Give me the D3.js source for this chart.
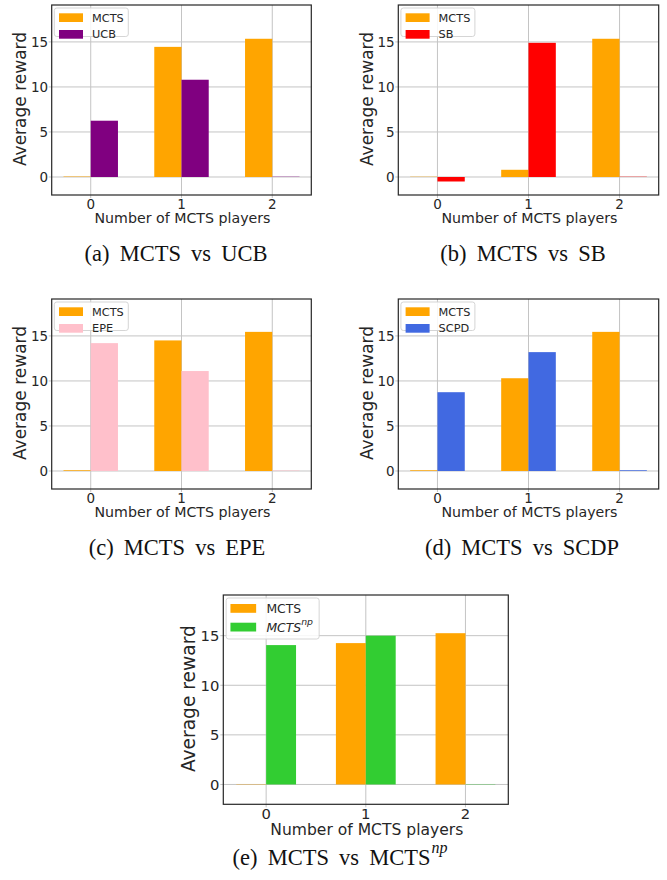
<!DOCTYPE html>
<html>
<head>
<meta charset="utf-8">
<script src="https://cdn.jsdelivr.net/npm/d3@7"></script>
<style>
  html, body { margin: 0; padding: 0; background: #fff; }
  svg { display: block; }
</style>
</head>
<body>
<svg id="fig" width="667" height="880"></svg>
<script>
// ---- data ----
const categories = [0, 1, 2];
const yTicks = [0, 5, 10, 15];
const yLabel = "Average reward";
const xLabel = "Number of MCTS players";

const mctsVsUCB = [0.05, 14.45, 15.35];
const ucbVals = [6.25, 10.8, 0.03];

const mctsVsSB = [0.03, 0.8, 15.35];
const sbVals = [-0.5, 14.9, 0.03];

const mctsVsEPE = [0.08, 14.5, 15.45];
const epeVals = [14.2, 11.1, 0.05];

const mctsVsSCPD = [0.08, 10.3, 15.45];
const scpdVals = [8.75, 13.2, 0.08];

const mctsVsNP = [0.03, 14.25, 15.25];
const npVals = [14.05, 15.0, 0.03];

const panels = [
  { key: "a", caption: "(a) MCTS vs UCB", other: "UCB", mcts: mctsVsUCB, vals: ucbVals, color: "#800080",
    frame: { l: 51.7, r: 311.3, t: 5, b: 195 }, k: 1, capX: 176, capY: 261 },
  { key: "b", caption: "(b) MCTS vs SB", other: "SB", mcts: mctsVsSB, vals: sbVals, color: "#ff0000",
    frame: { l: 398.3, r: 658.7, t: 5, b: 195 }, k: 1, capX: 523, capY: 261 },
  { key: "c", caption: "(c) MCTS vs EPE", other: "EPE", mcts: mctsVsEPE, vals: epeVals, color: "#ffc0cb",
    frame: { l: 51.7, r: 311.3, t: 299, b: 489 }, k: 1, capX: 177, capY: 555 },
  { key: "d", caption: "(d) MCTS vs SCDP", other: "SCPD", mcts: mctsVsSCPD, vals: scpdVals, color: "#4169e1",
    frame: { l: 398.3, r: 658.7, t: 299, b: 489 }, k: 1, capX: 522, capY: 555 },
  { key: "e", caption: "(e) MCTS vs MCTS", capSup: "np", other: "MCTS", otherSup: "np", mcts: mctsVsNP, vals: npVals, color: "#32cd32",
    frame: { l: 223.3, r: 508.3, t: 595, b: 804.3 }, k: 1.096, capX: 340, capY: 865 }
];

const MCTS_COLOR = "#ffa500";
const barW = 0.3;
const svg = d3.select("#fig");
const sans = "'DejaVu Sans', sans-serif";
const serif = "'Liberation Serif', 'Times New Roman', serif";

panels.forEach(p => {
  const f = p.frame, k = p.k;
  const x = d3.scaleLinear().domain([-0.43, 2.43]).range([f.l, f.r]);
  const y = d3.scaleLinear().domain([-2, 19.1]).range([f.b, f.t]);
  const g = svg.append("g");

  // grid
  g.selectAll(".gy").data(yTicks).join("line")
    .attr("x1", f.l - 3).attr("x2", f.r)
    .attr("y1", d => y(d)).attr("y2", d => y(d))
    .attr("stroke", "#c4c4c4").attr("stroke-width", 1);
  g.selectAll(".gx").data(categories).join("line")
    .attr("x1", d => x(d)).attr("x2", d => x(d))
    .attr("y1", f.t).attr("y2", f.b + 3)
    .attr("stroke", "#c4c4c4").attr("stroke-width", 1);

  // bars
  const drawBars = (vals, offset, color) => {
    g.selectAll(null).data(categories).join("rect")
      .attr("x", d => x(d + offset))
      .attr("width", d => x(d + offset + barW) - x(d + offset))
      .attr("y", (d, i) => y(Math.max(0, vals[i])))
      .attr("height", (d, i) => Math.abs(y(vals[i]) - y(0)))
      .attr("fill", color);
  };
  drawBars(p.mcts, -barW, MCTS_COLOR);
  drawBars(p.vals, 0, p.color);

  // frame
  g.append("rect").attr("x", f.l).attr("y", f.t)
    .attr("width", f.r - f.l).attr("height", f.b - f.t)
    .attr("fill", "none").attr("stroke", "#262626").attr("stroke-width", 1.2);

  // y tick labels
  g.selectAll(".yt").data(yTicks).join("text")
    .attr("x", f.l - 3.6 * k).attr("y", d => y(d))
    .attr("dy", "0.36em")
    .attr("text-anchor", "end")
    .attr("font-family", sans).attr("font-size", 13.5 * k)
    .attr("fill", "#262626")
    .text(d => d);

  // x tick labels
  g.selectAll(".xt").data(categories).join("text")
    .attr("x", d => x(d)).attr("y", f.b + 13.5 * k)
    .attr("text-anchor", "middle")
    .attr("font-family", sans).attr("font-size", 13.5 * k)
    .attr("fill", "#262626")
    .text(d => d);

  // x label
  g.append("text")
    .attr("x", (f.l + f.r) / 2 + 1).attr("y", f.b + 28 * k)
    .attr("text-anchor", "middle")
    .attr("font-family", sans).attr("font-size", 14.2 * k)
    .attr("fill", "#262626")
    .text(xLabel);

  // y label
  g.append("text")
    .attr("transform", `translate(${f.l - 31.7 * k},${(f.t + f.b) / 2 - 1}) rotate(-90)`)
    .attr("text-anchor", "middle")
    .attr("dy", "0.36em")
    .attr("font-family", sans).attr("font-size", 17 * k)
    .attr("fill", "#262626")
    .text(yLabel);

  // legend
  const isE = !!p.otherSup;
  const lx = f.l + 2.6 * k, ly = f.t + 3;
  const lw = isE ? 93 : 74, lh = isE ? 41 : 28.5;
  const lg = g.append("g");
  lg.append("rect").attr("x", lx).attr("y", ly).attr("width", lw).attr("height", lh)
    .attr("rx", 2.5).attr("fill", "#fff").attr("fill-opacity", 0.85)
    .attr("stroke", "#d0d0d0").attr("stroke-width", 0.9);
  const rowY = isE ? [6, 24.7] : [5.3, 22];
  const patchH = isE ? 8.8 : 8.7;
  const patchX = isE ? 4.3 : 4.7, patchW = isE ? 25.7 : 24, textX = isE ? 40.3 : 37.7;
  const entries = [{ label: "MCTS", color: MCTS_COLOR }, { label: p.other, sup: p.otherSup, color: p.color }];
  entries.forEach((e, i) => {
    lg.append("rect").attr("x", lx + patchX).attr("y", ly + rowY[i])
      .attr("width", patchW).attr("height", patchH).attr("fill", e.color);
    const t = lg.append("text")
      .attr("x", lx + textX).attr("y", ly + rowY[i] + patchH / 2)
      .attr("dy", "0.36em")
      .attr("font-family", sans).attr("font-size", 11.3 * k)
      .attr("fill", "#262626");
    if (e.sup) {
      t.append("tspan").attr("font-style", "italic").text(e.label);
      t.append("tspan").attr("font-style", "italic").attr("font-size", 8.5 * k)
        .attr("dy", "-0.75em").text(e.sup);
    } else {
      t.text(e.label);
    }
  });

  // caption
  const cap = svg.append("text")
    .attr("x", p.capX).attr("y", p.capY)
    .attr("text-anchor", "middle")
    .attr("font-family", serif).attr("font-size", 22.5)
    .attr("word-spacing", "4.5px")
    .attr("fill", "#111");
  cap.append("tspan").text(p.caption);
  if (p.capSup) {
    cap.append("tspan").attr("font-style", "italic").attr("font-size", 16)
      .attr("dx", 1).attr("dy", "-0.75em").text(p.capSup);
  }
});
</script>
</body>
</html>
